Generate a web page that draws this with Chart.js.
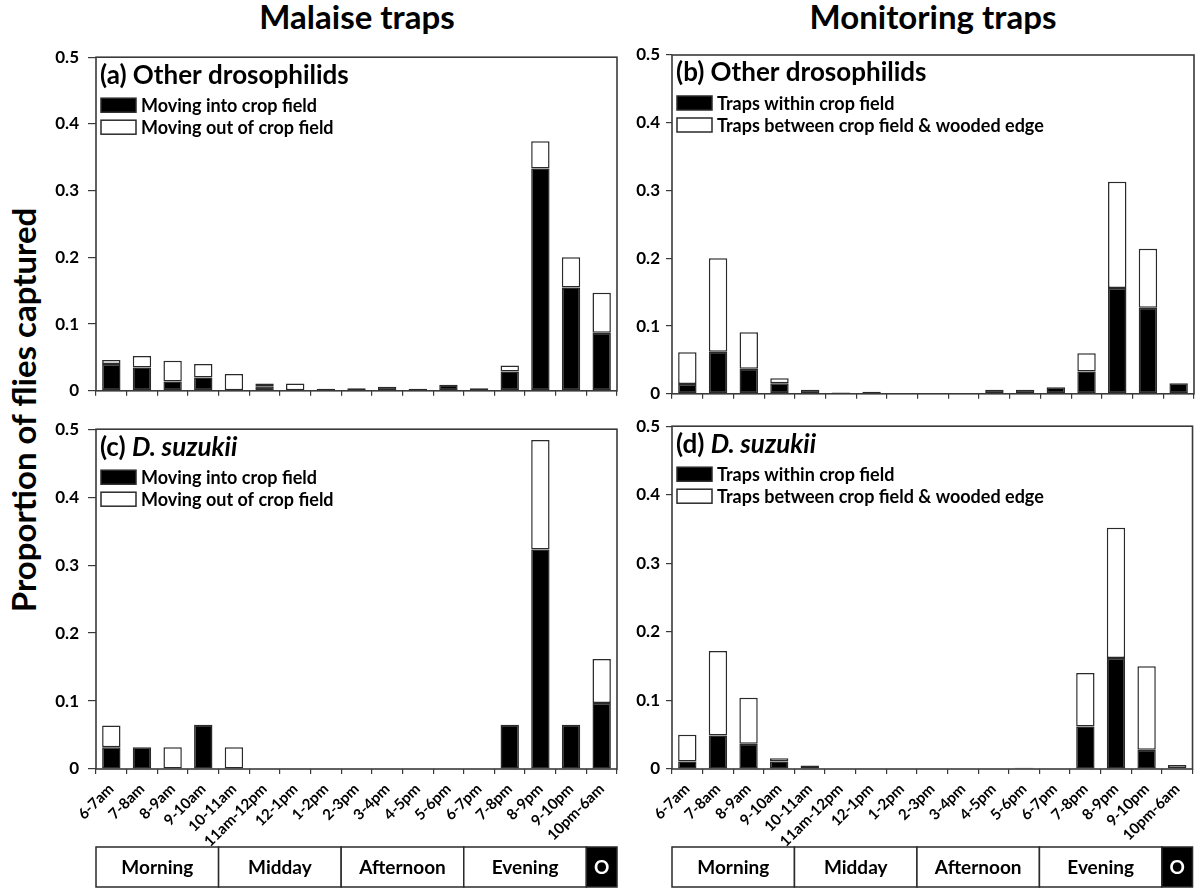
<!DOCTYPE html>
<html>
<head>
<meta charset="utf-8">
<script src="https://cdn.jsdelivr.net/npm/chart.js@4.4.1/dist/chart.umd.min.js"></script>
<style>
  body { margin: 0; background: #fff; width: 1196px; height: 888px; position: relative; overflow: hidden; font-family: Lato, 'Open Sans', sans-serif; }
  canvas { position: absolute; }
  .head { position: absolute; font-weight: bold; font-size: 33px; color: #000; text-align: center; white-space: nowrap; }
  .ytitle { position: absolute; left: 23px; top: 410px; transform: translate(-50%, -50%) rotate(-90deg); font-weight: bold; font-size: 33px; color: #000; white-space: nowrap; }
</style>
</head>
<body>
<div class="head" style="left:157px;top:-4px;width:400px;">Malaise traps</div>
<div class="head" style="left:733px;top:-4px;width:400px;">Monitoring traps</div>
<div class="ytitle">Proportion of flies captured</div>

<canvas id="cA" width="590" height="372" style="left:40px;top:38px;"></canvas>
<canvas id="cB" width="576" height="372" style="left:620px;top:38px;"></canvas>
<canvas id="cC" width="590" height="478" style="left:40px;top:410px;"></canvas>
<canvas id="cD" width="576" height="478" style="left:620px;top:410px;"></canvas>

<script>
// time-of-day categories
const hours = ['6-7am', '7-8am', '8-9am', '9-10am', '10-11am', '11am-12pm', '12-1pm', '1-2pm', '2-3pm',
  '3-4pm', '4-5pm', '5-6pm', '6-7pm', '7-8pm', '8-9pm', '9-10pm', '10pm-6am'];

// period groups under the x axis (number of hour bins in each)
const periodNames = ['Morning', 'Midday', 'Afternoon', 'Evening', 'O'];
const periodSpans = [4, 4, 4, 4, 1];

const yTicks = [0, 0.1, 0.2, 0.3, 0.4, 0.5];

// (a) Malaise traps, other drosophilids
const malaiseOtherIn  = [0.040, 0.035, 0.014, 0.020, 0, 0.007, 0, 0.003, 0.004, 0.006, 0.003, 0.009, 0.004, 0.029, 0.333, 0.155, 0.087];
const malaiseOtherOut = [0.006, 0.017, 0.031, 0.020, 0.025, 0.004, 0.011, 0, 0, 0, 0, 0, 0, 0.009, 0.041, 0.045, 0.060];

// (b) Monitoring traps, other drosophilids
const monitorOtherWithin  = [0.0145, 0.062, 0.037, 0.0155, 0.006, 0.002, 0.003, 0.001, 0.001, 0.001, 0.006, 0.006, 0.0097, 0.033, 0.156, 0.127, 0.0155];
const monitorOtherBetween = [0.047, 0.138, 0.054, 0.0075, 0, 0, 0, 0, 0, 0, 0, 0, 0, 0.027, 0.157, 0.087, 0];

// (c) Malaise traps, D. suzukii
const malaiseSuzIn  = [0.032, 0.032, 0, 0.065, 0, 0, 0, 0, 0, 0, 0, 0, 0, 0.065, 0.323, 0.065, 0.097];
const malaiseSuzOut = [0.032, 0, 0.032, 0, 0.032, 0, 0, 0, 0, 0, 0, 0, 0, 0, 0.161, 0, 0.065];

// (d) Monitoring traps, D. suzukii
const monitorSuzWithin  = [0.011, 0.049, 0.037, 0.011, 0.005, 0, 0, 0, 0, 0, 0, 0.002, 0, 0.062, 0.162, 0.028, 0.001];
const monitorSuzBetween = [0.039, 0.123, 0.067, 0.0045, 0, 0, 0, 0, 0, 0, 0, 0, 0, 0.078, 0.190, 0.122, 0.005];

const FONT = "Lato, 'Open Sans', sans-serif";
const INK = '#000';
const EDGE = '#2a2a2a';

// frame, panel title, legend and period boxes
const framePlugin = {
  id: 'frame',
  afterDraw(chart, args, o) {
    const { ctx, chartArea: a } = chart;
    ctx.save();
    ctx.strokeStyle = '#3a3a3a';
    ctx.lineWidth = 1.6;
    ctx.strokeRect(a.left, a.top, a.right - a.left, a.bottom - a.top);

    ctx.textBaseline = 'middle';
    ctx.fillStyle = INK;
    let x = a.left + 4;
    const ty = a.top + 18;
    ctx.font = 'bold 26px ' + FONT;
    ctx.fillText(o.tag, x, ty);
    x += ctx.measureText(o.tag).width;
    ctx.font = (o.italic ? 'italic ' : '') + 'bold 26px ' + FONT;
    ctx.fillText(o.name, x, ty);

    chart.data.datasets.forEach((ds, i) => {
      const y = a.top + 48 + i * 22;
      ctx.fillStyle = ds.backgroundColor;
      ctx.fillRect(a.left + 5, y - 7, 35, 14);
      ctx.strokeStyle = EDGE;
      ctx.lineWidth = 1.5;
      ctx.strokeRect(a.left + 5, y - 7, 35, 14);
      ctx.fillStyle = INK;
      ctx.font = 'bold 18px ' + FONT;
      ctx.fillText(ds.label, a.left + 45, y + 1);
    });

    if (o.periods) {
      const xs = chart.scales.x;
      const half = (xs.getPixelForValue(1) - xs.getPixelForValue(0)) / 2;
      const top = chart.height - 41, h = 40;
      let start = 0;
      periodNames.forEach((name, i) => {
        const end = start + periodSpans[i] - 1;
        const l = xs.getPixelForValue(start) - half;
        const r = xs.getPixelForValue(end) + half;
        const dark = name === 'O';
        ctx.fillStyle = dark ? '#000' : '#fff';
        ctx.fillRect(l, top, r - l, h);
        ctx.strokeStyle = EDGE;
        ctx.lineWidth = 1.5;
        ctx.strokeRect(l, top, r - l, h);
        ctx.fillStyle = dark ? '#fff' : INK;
        ctx.font = 'bold 19px ' + FONT;
        ctx.textAlign = 'center';
        ctx.fillText(name, (l + r) / 2, top + h / 2 + 1);
        start = end + 1;
      });
    }
    ctx.restore();
  }
};

function panel(id, first, second, names, o) {
  return new Chart(document.getElementById(id), {
    type: 'bar',
    data: {
      labels: hours,
      datasets: [
        { label: names[0], data: first.map(v => v || null), backgroundColor: '#000',
          borderColor: EDGE, borderWidth: 1.5, borderSkipped: false },
        { label: names[1], data: second.map(v => v || null), backgroundColor: '#fff',
          borderColor: EDGE, borderWidth: 1.5, borderSkipped: false }
      ]
    },
    options: {
      responsive: false,
      animation: false,
      layout: { padding: { top: o.top, right: o.right, left: 0, bottom: 0 } },
      datasets: { bar: { barPercentage: 0.6, categoryPercentage: 1 } },
      plugins: {
        legend: { display: false },
        tooltip: { enabled: false },
        frame: { tag: o.tag, name: o.name, italic: o.italic, periods: o.showX }
      },
      scales: {
        x: {
          stacked: true,
          border: { display: false },
          grid: { drawOnChartArea: false, tickLength: 5, color: '#3a3a3a', lineWidth: 1.2 },
          ticks: { display: o.showX, autoSkip: false, minRotation: 45, maxRotation: 45, padding: 6,
            color: INK, font: { family: FONT, size: 15, weight: 'bold' } },
          afterFit: s => { s.height = o.xh; }
        },
        y: {
          stacked: true,
          min: 0,
          max: 0.5,
          border: { display: false },
          grid: { drawOnChartArea: false, tickLength: o.tickLen, color: '#3a3a3a', lineWidth: 1.2 },
          afterBuildTicks: s => { s.ticks = yTicks.map(v => ({ value: v })); },
          ticks: { padding: o.pad, color: INK, font: { family: FONT, size: 17, weight: 'bold' },
            callback: v => String(v) },
          afterFit: s => { s.width = o.yw; }
        }
      }
    },
    plugins: [framePlugin]
  });
}

const malaiseNames = ['Moving into crop field', 'Moving out of crop field'];
const monitorNames = ['Traps within crop field', 'Traps between crop field & wooded edge'];

panel('cA', malaiseOtherIn, malaiseOtherOut, malaiseNames,
  { tag: '(a) ', name: 'Other drosophilids', italic: false, showX: false, top: 17, right: 13, xh: 11, yw: 56, tickLen: 8, pad: 9 });
panel('cB', monitorOtherWithin, monitorOtherBetween, monitorNames,
  { tag: '(b) ', name: 'Other drosophilids', italic: false, showX: false, top: 17, right: 2, xh: 11, yw: 52, tickLen: 6, pad: 6 });
panel('cC', malaiseSuzIn, malaiseSuzOut, malaiseNames,
  { tag: '(c) ', name: 'D. suzukii', italic: true, showX: true, top: 15, right: 13, xh: 119, yw: 56, tickLen: 8, pad: 9 });
panel('cD', monitorSuzWithin, monitorSuzBetween, monitorNames,
  { tag: '(d) ', name: 'D. suzukii', italic: true, showX: true, top: 15, right: 2, xh: 119, yw: 52, tickLen: 6, pad: 6 });
</script>
</body>
</html>
